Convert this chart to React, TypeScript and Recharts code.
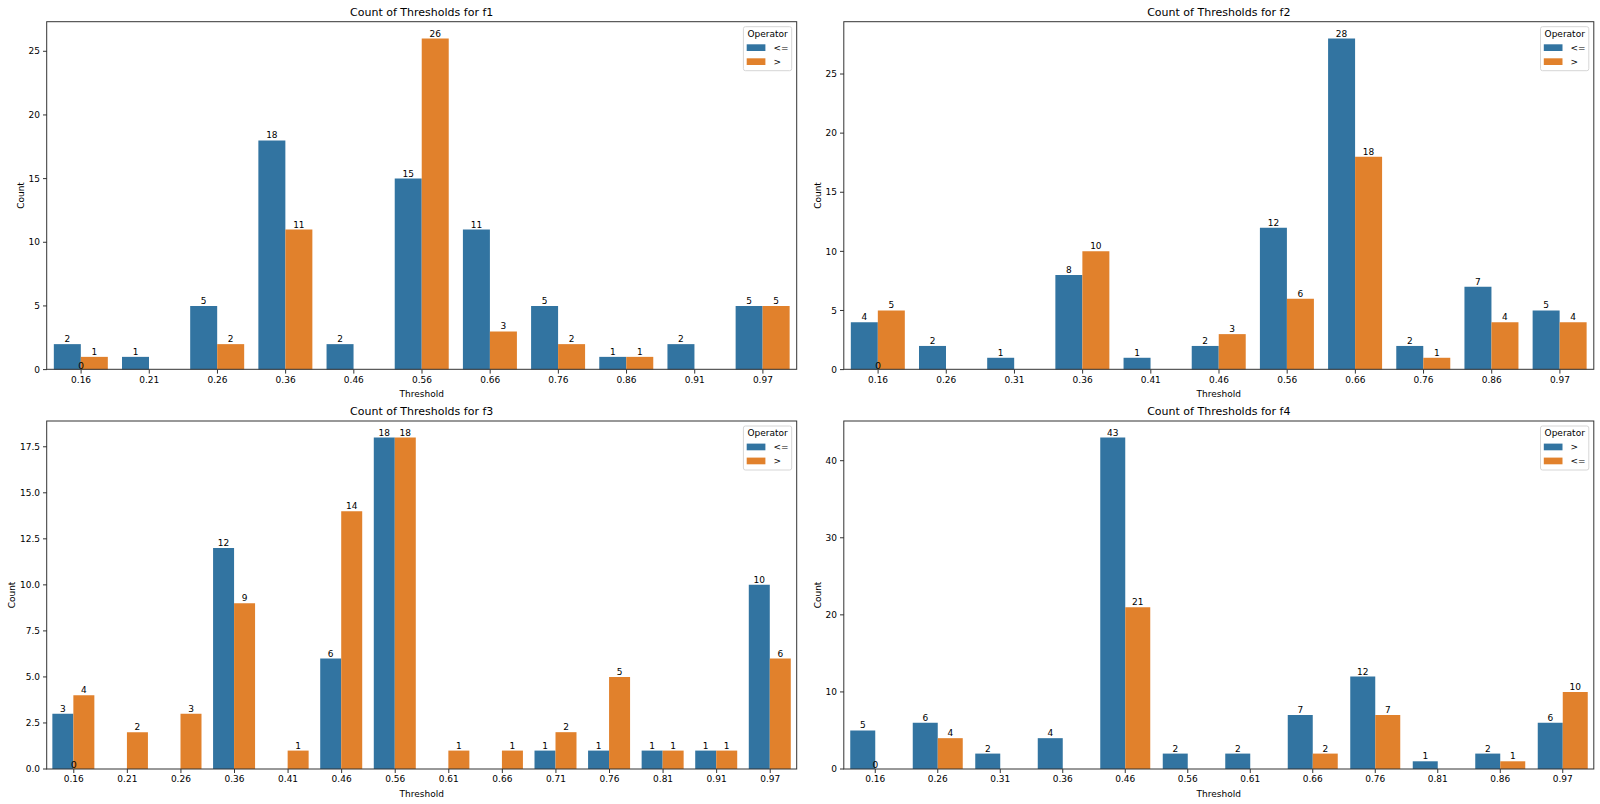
import { BarChart, Bar, XAxis, YAxis, LabelList, ReferenceDot } from "recharts";

const FONT = "DejaVu Sans";
const BLUE = "#3274a1";
const ORANGE = "#e1812c";

// f1
const f1Thresholds = ["0.16", "0.21", "0.26", "0.36", "0.46", "0.56", "0.66", "0.76", "0.86", "0.91", "0.97"];
const f1LessEq = [2, 1, 5, 18, 2, 15, 11, 5, 1, 2, 5];
const f1Greater = [1, 0, 2, 11, 0, 26, 3, 2, 1, 0, 5];
const f1Ticks = [0, 5, 10, 15, 20, 25];

// f2
const f2Thresholds = ["0.16", "0.26", "0.31", "0.36", "0.41", "0.46", "0.56", "0.66", "0.76", "0.86", "0.97"];
const f2LessEq = [4, 2, 1, 8, 1, 2, 12, 28, 2, 7, 5];
const f2Greater = [5, 0, 0, 10, 0, 3, 6, 18, 1, 4, 4];
const f2Ticks = [0, 5, 10, 15, 20, 25];

// f3
const f3Thresholds = ["0.16", "0.21", "0.26", "0.36", "0.41", "0.46", "0.56", "0.61", "0.66", "0.71", "0.76", "0.81", "0.91", "0.97"];
const f3LessEq = [3, 0, 0, 12, 0, 6, 18, 0, 0, 1, 1, 1, 1, 10];
const f3Greater = [4, 2, 3, 9, 1, 14, 18, 1, 1, 2, 5, 1, 1, 6];
const f3Ticks = [0, 2.5, 5, 7.5, 10, 12.5, 15, 17.5];

// f4 (hue order is reversed here: ">" first)
const f4Thresholds = ["0.16", "0.26", "0.31", "0.36", "0.46", "0.56", "0.61", "0.66", "0.76", "0.81", "0.86", "0.97"];
const f4Greater = [5, 6, 2, 4, 43, 2, 2, 7, 12, 1, 2, 6];
const f4LessEq = [0, 4, 0, 0, 21, 0, 0, 2, 7, 0, 1, 10];
const f4Ticks = [0, 10, 20, 30, 40];

const defaultOperators = ["<=", ">"];
const f4Operators = [">", "<="];

const panels = [
  { title: "Count of Thresholds for f1", thresholds: f1Thresholds, first: f1LessEq, second: f1Greater, operators: defaultOperators, ticks: f1Ticks, decimals: 0, x: 46.7, y: 21.7, w: 750, h: 347.6, ylab: 22.7 },
  { title: "Count of Thresholds for f2", thresholds: f2Thresholds, first: f2LessEq, second: f2Greater, operators: defaultOperators, ticks: f2Ticks, decimals: 0, x: 843.8, y: 21.7, w: 750, h: 347.6, ylab: 23 },
  { title: "Count of Thresholds for f3", thresholds: f3Thresholds, first: f3LessEq, second: f3Greater, operators: defaultOperators, ticks: f3Ticks, decimals: 1, x: 46.7, y: 421, w: 750, h: 348, ylab: 31.7 },
  { title: "Count of Thresholds for f4", thresholds: f4Thresholds, first: f4Greater, second: f4LessEq, operators: f4Operators, ticks: f4Ticks, decimals: 0, x: 843.8, y: 421, w: 750, h: 348, ylab: 23 },
];

const ML = 47;
const MT = 22;
const MR = 8;
const MB = 34;
const YW = 40;
const XH = 20;

const tickStyle = { fontSize: 9, fill: "#000", fontFamily: FONT };
const hideZero = (v: any) => (v ? v : "");

function Panel({ p }: { p: any }) {
  const data = p.thresholds.map((t: string, i: number) => ({
    threshold: t,
    first: p.first[i],
    second: p.second[i],
  }));
  const ymax = Math.max(...p.first, ...p.second) * 1.05;

  return (
    <div style={{ position: "absolute", left: p.x - ML, top: p.y - MT }}>
      <BarChart
        width={p.w + ML + MR}
        height={p.h + MT + MB}
        data={data}
        margin={{ top: MT, right: MR, left: ML - YW, bottom: MB - XH }}
        barCategoryGap="10%"
        barGap={0}
      >
        <XAxis
          dataKey="threshold"
          height={XH}
          interval={0}
          axisLine={false}
          tickSize={4}
          tickMargin={3}
          tickLine={{ stroke: "#333" }}
          tick={tickStyle}
        />
        <YAxis
          type="number"
          width={YW}
          domain={[0, ymax]}
          ticks={p.ticks}
          interval={0}
          axisLine={false}
          tickSize={4}
          tickMargin={3}
          tickLine={{ stroke: "#333" }}
          tick={tickStyle}
          tickFormatter={(v: number) => v.toFixed(p.decimals)}
        />
        <Bar dataKey="first" name={p.operators[0]} fill={BLUE} isAnimationActive={false}>
          <LabelList dataKey="first" position="top" offset={2} fontSize={9} fill="#000" fontFamily={FONT} formatter={hideZero} />
        </Bar>
        <Bar dataKey="second" name={p.operators[1]} fill={ORANGE} isAnimationActive={false}>
          <LabelList dataKey="second" position="top" offset={2} fontSize={9} fill="#000" fontFamily={FONT} formatter={hideZero} />
        </Bar>
        <ReferenceDot
          x={p.thresholds[0]}
          y={0}
          r={0}
          fill="none"
          stroke="none"
          ifOverflow="visible"
          label={{ value: "0", position: "top", offset: 1, fontSize: 9, fill: "#000", fontFamily: FONT }}
        />
      </BarChart>
    </div>
  );
}

function Overlay() {
  return (
    <svg
      width={1600}
      height={804}
      style={{ position: "absolute", left: 0, top: 0, pointerEvents: "none" }}
      fontFamily={FONT}
    >
      {panels.map((p) => {
        const lx = p.x + p.w - 5 - 48.3;
        const ly = p.y + 5;
        return (
          <g key={p.title}>
            <rect x={p.x} y={p.y} width={p.w} height={p.h} fill="none" stroke="#333" strokeWidth={1} />
            <text x={p.x + p.w / 2} y={p.y - 5.7} textAnchor="middle" fontSize={11} fill="#000">
              {p.title}
            </text>
            <text x={p.x + p.w / 2} y={p.y + p.h + 27.5} textAnchor="middle" fontSize={9} fill="#000">
              Threshold
            </text>
            <text
              transform={`translate(${p.x - p.ylab},${p.y + p.h / 2}) rotate(-90)`}
              textAnchor="middle"
              fontSize={9}
              fill="#000"
            >
              Count
            </text>
            <rect x={lx} y={ly} width={48.3} height={44} rx={2} fill="#fff" fillOpacity={0.8} stroke="#d6d6d6" />
            <text x={lx + 24.2} y={ly + 9.8} textAnchor="middle" fontSize={9} fill="#000">
              Operator
            </text>
            {p.operators.map((op: string, i: number) => (
              <g key={op}>
                <rect x={lx + 3.3} y={ly + 17.6 + i * 14} width={18.7} height={6.7} fill={i === 0 ? BLUE : ORANGE} />
                <text x={lx + 30} y={ly + 24.3 + i * 14} fontSize={9} fill="#000">
                  {op}
                </text>
              </g>
            ))}
          </g>
        );
      })}
    </svg>
  );
}

export default function App() {
  return (
    <div
      style={{
        position: "absolute",
        left: 0,
        top: 0,
        width: 1600,
        height: 804,
        background: "#fff",
        fontFamily: FONT,
      }}
    >
      {panels.map((p) => (
        <Panel key={p.title} p={p} />
      ))}
      <Overlay />
    </div>
  );
}
